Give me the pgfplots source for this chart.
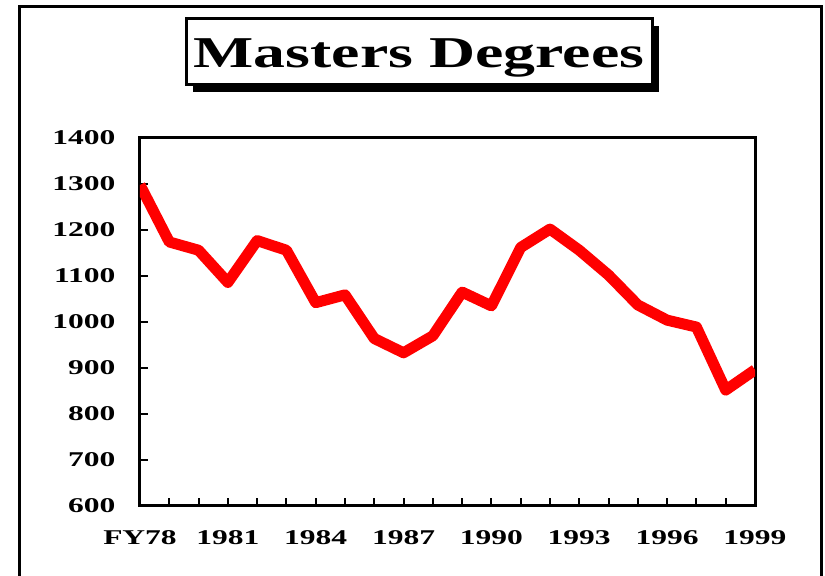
\documentclass[border=0pt]{standalone}
\usepackage{fontspec}
\setmainfont{Liberation Serif}
\usepackage{pgfplots}
\pgfplotsset{compat=1.18}
\begin{document}
\begin{tikzpicture}
\useasboundingbox (0,0) rectangle (412.5pt,288pt);
% outer frame
\draw[line width=1.5pt] (9.5pt,-2pt) -- (9.5pt,284.5pt) -- (410.5pt,284.5pt) -- (410.5pt,-2pt);
% title box with shadow
\fill[black] (96.5pt,242pt) rectangle (329.5pt,275pt);
\draw[line width=1.5pt, fill=white] (93pt,245.5pt) rectangle (326pt,278.5pt);
\node[anchor=base, inner sep=0pt, xscale=1.45, font=\bfseries\fontsize{22}{26}\selectfont] at (209.5pt,254pt) {Masters Degrees};
\begin{axis}[
  at={(70pt,35pt)}, anchor=south west,
  scale only axis, width=307.5pt, height=184pt,
  xmin=1978, xmax=1999, ymin=600, ymax=1400,
  axis line style={line width=1.5pt},
  tick style={line width=1pt, black},
  tick align=inside, major tick length=4pt,
  xtick={1978,...,1999},
  xticklabels={FY78,,,1981,,,1984,,,1987,,,1990,,,1993,,,1996,,,1999},
  ytick={600,700,...,1400},
  yticklabels={600,700,800,900,1000,1100,1200,1300,1400},
  xtick pos=bottom, ytick pos=left,
  xticklabel style={inner sep=0pt, anchor=north, yshift=-12pt, xscale=1.5, font=\bfseries\fontsize{10.5}{12}\selectfont},
  yticklabel style={inner sep=0pt, anchor=east, xshift=-12pt, xscale=1.5, font=\bfseries\fontsize{10.5}{12}\selectfont},
]
\addplot[red, line width=5.5pt, line join=round, mark=none] coordinates {
(1978,1298) (1979,1174) (1980,1156) (1981,1086) (1982,1177) (1983,1156)
(1984,1042) (1985,1059) (1986,964) (1987,933) (1988,970) (1989,1065)
(1990,1035) (1991,1162) (1992,1202) (1993,1156) (1994,1102) (1995,1037)
(1996,1004) (1997,989) (1998,852) (1999,896)
};
\end{axis}
\end{tikzpicture}
\end{document}
